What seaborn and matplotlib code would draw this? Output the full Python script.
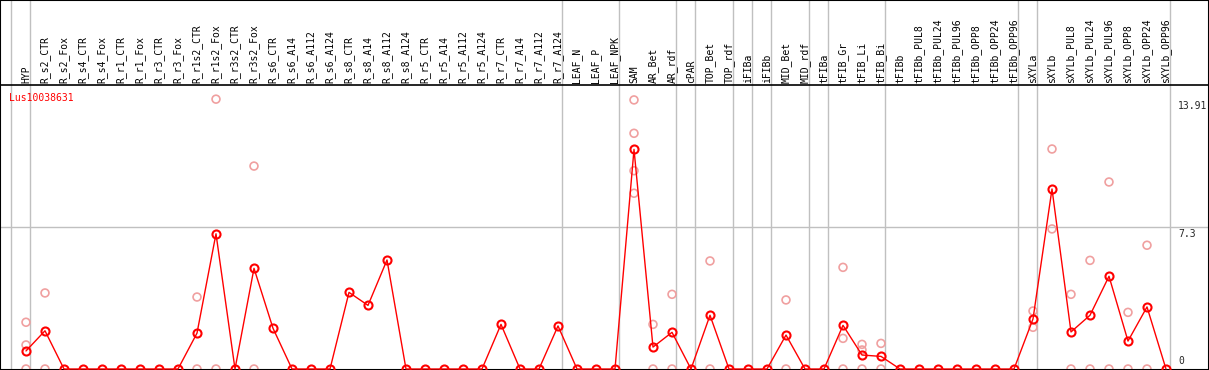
import numpy as np
import pandas as pd
import matplotlib
matplotlib.use("Agg")
import matplotlib.pyplot as plt
import seaborn as sns

# sample columns (in display order)
samples = [
    "HYP", "R_s2_CTR", "R_s2_Fox", "R_s4_CTR", "R_s4_Fox", "R_r1_CTR", "R_r1_Fox",
    "R_r3_CTR", "R_r3_Fox", "R_r1s2_CTR", "R_r1s2_Fox", "R_r3s2_CTR", "R_r3s2_Fox",
    "R_s6_CTR", "R_s6_A14", "R_s6_A112", "R_s6_A124", "R_s8_CTR", "R_s8_A14",
    "R_s8_A112", "R_s8_A124", "R_r5_CTR", "R_r5_A14", "R_r5_A112", "R_r5_A124",
    "R_r7_CTR", "R_r7_A14", "R_r7_A112", "R_r7_A124", "LEAF_N", "LEAF_P", "LEAF_NPK",
    "SAM", "AR_Bet", "AR_rdf", "cPAR", "TOP_Bet", "TOP_rdf", "iFIBa", "iFIBb",
    "MID_Bet", "MID_rdf", "tFIBa", "tFIB_Gr", "tFIB_Li", "tFIB_Bi", "tFIBb",
    "tFIBb_PUL8", "tFIBb_PUL24", "tFIBb_PUL96", "tFIBb_OPP8", "tFIBb_OPP24", "tFIBb_OPP96",
    "sXYLa", "sXYLb", "sXYLb_PUL8", "sXYLb_PUL24", "sXYLb_PUL96", "sXYLb_OPP8",
    "sXYLb_OPP24", "sXYLb_OPP96",
]

# number of columns in each separated group
group_sizes = [1, 28, 3, 3, 1, 2, 1, 1, 2, 1, 3, 7, 1, 7]

# mean expression per sample
means = [
    0.93, 1.97, 0, 0, 0, 0, 0, 0, 0, 1.85, 6.97, 0, 5.19, 2.10, 0, 0, 0,
    3.95, 3.28, 5.62, 0, 0, 0, 0, 0, 2.30, 0, 0, 2.22, 0, 0, 0,
    11.32, 1.13, 1.89, 0, 2.77, 0, 0, 0, 1.75, 0, 0, 2.25, 0.72, 0.65,
    0, 0, 0, 0, 0, 0, 0, 2.58, 9.28, 1.91, 2.77, 4.78, 1.44, 3.20, 0,
]

# replicate values per sample (only where visible)
replicates = [
    [2.41, 1.24, 0], [3.92, 0], [], [], [], [], [], [], [], [3.71, 0], [13.91, 0], [],
    [10.46, 0], [], [], [], [], [], [], [], [], [], [], [], [], [], [], [], [],
    [], [], [], [13.87, 12.15, 10.22, 9.06], [2.30, 0], [3.85, 0], [], [5.57, 0],
    [], [], [], [3.56, 0], [], [], [5.24, 1.58, 0], [1.27, 0.98, 0], [1.32, 0],
    [], [], [], [], [], [], [], [2.99, 2.15], [11.34, 7.22], [3.85, 0], [5.60, 0],
    [9.64, 0], [2.92, 0], [6.38, 0], [],
]

gene = "Lus10038631"
scale_labels = ["13.91", "7.3", "0"]
scale_values = [13.91, 7.3, 0]

df = pd.DataFrame({"pos": np.arange(len(samples)), "sample": samples, "mean": means})
rep_df = pd.DataFrame(
    [(i, v) for i, vals in enumerate(replicates) for v in vals], columns=["pos", "value"]
)

sns.set_style("white")
mono = "DejaVu Sans Mono"

W, H = 1209, 370
fig = plt.figure(figsize=(W / 100, H / 100), dpi=100)
ax = fig.add_axes([0, 0, 1, 1])

# pixel -> data helpers (layout only)
X0, DX = 26, 19.0
Y0, DY = 369, 19.4
def py(p):
    return (Y0 - p) / DY

ax.set_xlim(-X0 / DX, (W - X0) / DX)
ax.set_ylim(py(H), py(0))
ax.set_xticks([])
ax.set_yticks([])
for s in ax.spines.values():
    s.set_color("black")
    s.set_linewidth(1.5)

# group separators and reference lines
ends = np.cumsum([0] + group_sizes) - 1
for e in ends:
    ax.axvline(e + 0.2, color="#c0c0c0", lw=1, zorder=0)
ax.axhline(scale_values[1], color="#c0c0c0", lw=1, zorder=0)
ax.axhline(py(85), color="black", lw=1.2, zorder=1)

# replicates
sns.scatterplot(data=rep_df, x="pos", y="value", ax=ax, marker="o", s=32,
                facecolor="none", edgecolor="#f0a0a0", linewidth=1.2, zorder=2,
                legend=False)

# mean line
sns.lineplot(data=df, x="pos", y="mean", ax=ax, color="red", lw=1, sort=False,
             marker="o", markersize=5.8, markerfacecolor="none",
             markeredgecolor="red", markeredgewidth=1.5, zorder=3)

ax.set_xlabel("")
ax.set_ylabel("")

# column labels
for i, name in enumerate(samples):
    ax.text(i, py(83), name, rotation=90, ha="center", va="bottom",
            family=mono, fontsize=7, color="black")

ax.text(-X0 / DX + 9 / DX, py(98), gene, ha="left", va="center",
        family=mono, fontsize=7, color="red")

# scale labels on the right
xr = -X0 / DX + 1178 / DX
ax.text(xr, scale_values[0] - 0.1, scale_labels[0], ha="left", va="top",
        family=mono, fontsize=7)
ax.text(xr, scale_values[1] - 0.1, scale_labels[1], ha="left", va="top",
        family=mono, fontsize=7)
ax.text(xr, scale_values[2] + 0.15, scale_labels[2], ha="left", va="bottom",
        family=mono, fontsize=7)

fig.savefig("out.png", dpi=100)
